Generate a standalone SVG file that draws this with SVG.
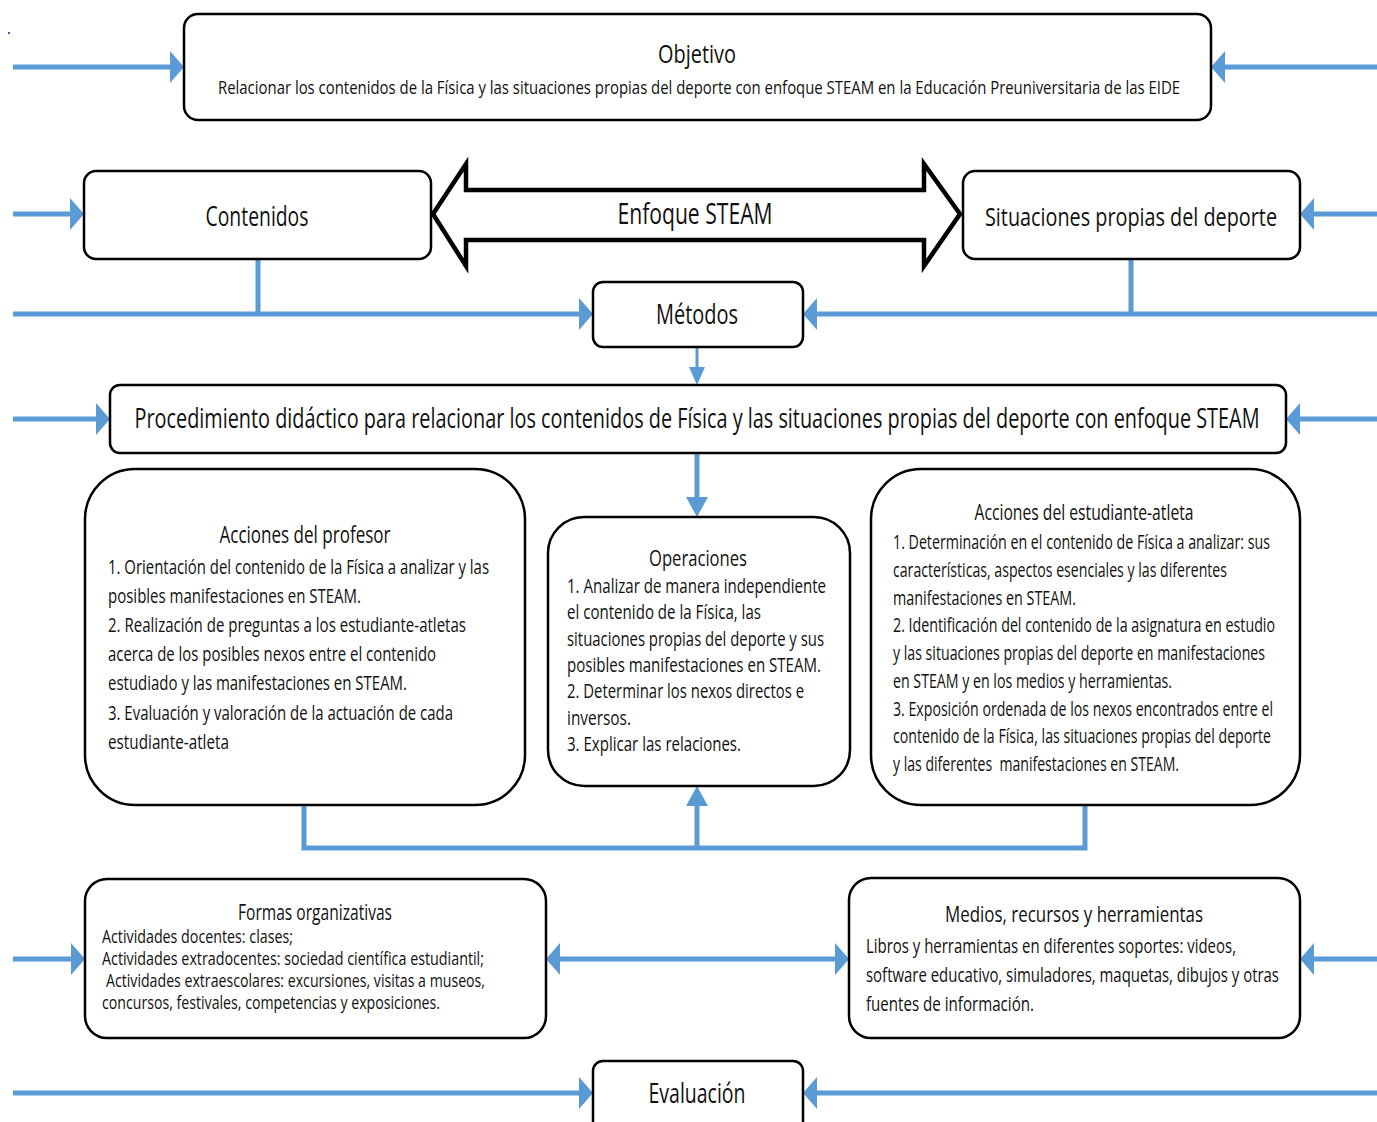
<svg xmlns="http://www.w3.org/2000/svg" width="1377" height="1122" viewBox="0 0 1377 1122">
<style>
.box{fill:#fff;stroke:#000;stroke-width:2.5}
.ln{fill:none;stroke:#5B9BD5;stroke-width:5}
.t{font-family:"Open Sans","Liberation Sans",sans-serif;fill:#111}
.c{text-anchor:middle}
</style>
<defs>
<marker id="ah" viewBox="0 0 14 32" refX="4" refY="16" markerWidth="14" markerHeight="32" markerUnits="userSpaceOnUse" orient="auto-start-reverse"><path d="M0,0 L14,16 L0,32 Z" fill="#5B9BD5"/></marker>
<marker id="av" viewBox="0 0 20 22" refX="8" refY="11" markerWidth="20" markerHeight="22" markerUnits="userSpaceOnUse" orient="auto"><path d="M0,0 L20,11 L0,22 Z" fill="#5B9BD5"/></marker>
<marker id="as" viewBox="0 0 18 16" refX="8" refY="8" markerWidth="18" markerHeight="16" markerUnits="userSpaceOnUse" orient="auto"><path d="M0,0 L18,8 L0,16 Z" fill="#5B9BD5"/></marker>
</defs>
<rect x="8" y="32" width="2" height="2" fill="#2E5FA8"/>
<g id="connectors">
<path class="ln" d="M13,67 H174" marker-end="url(#ah)"/>
<path class="ln" d="M1377,67 H1221" marker-end="url(#ah)"/>
<path class="ln" d="M13,214 H74" marker-end="url(#ah)"/>
<path class="ln" d="M1377,214 H1310" marker-end="url(#ah)"/>
<path class="ln" d="M258,259 V314"/>
<path class="ln" d="M13,314 H583" marker-end="url(#ah)"/>
<path class="ln" d="M1131,259 V314"/>
<path class="ln" d="M1377,314 H813" marker-end="url(#ah)"/>
<path class="ln" style="stroke-width:3" d="M697,347 V375" marker-end="url(#as)"/>
<path class="ln" d="M13,419 H100" marker-end="url(#ah)"/>
<path class="ln" d="M1377,419 H1296" marker-end="url(#ah)"/>
<path class="ln" d="M697,453 V505" marker-end="url(#av)"/>
<path class="ln" d="M304,805 V848 H1085 V805"/>
<path class="ln" d="M697,848 V798" marker-end="url(#av)"/>
<path class="ln" d="M13,959 H75" marker-end="url(#ah)"/>
<path class="ln" d="M1377,959 H1310" marker-end="url(#ah)"/>
<path class="ln" d="M556,959 H839" marker-start="url(#ah)" marker-end="url(#ah)"/>
<path class="ln" d="M13,1093 H583" marker-end="url(#ah)"/>
<path class="ln" d="M1377,1093 H813" marker-end="url(#ah)"/>
</g>
<g id="objetivo">
<rect class="box" x="184" y="14" width="1027" height="106" rx="14"/>
<text class="t c" x="697" y="63" font-size="25" textLength="78" lengthAdjust="spacingAndGlyphs">Objetivo</text>
<text class="t c" x="699" y="94" font-size="19" textLength="962" lengthAdjust="spacingAndGlyphs">Relacionar los contenidos de la Física y las situaciones propias del deporte con enfoque STEAM en la Educación Preuniversitaria de las EIDE</text>
</g>
<g id="contenidos">
<rect class="box" x="84" y="171" width="347" height="88" rx="12"/>
<text class="t c" x="257" y="226" font-size="27" textLength="103" lengthAdjust="spacingAndGlyphs">Contenidos</text>
</g>
<g id="enfoque">
<polygon points="433,214 466,164 466,190 924,190 924,164 960,214 924,266 924,240 466,240 466,266" fill="#fff" stroke="#000" stroke-width="4.5" stroke-linejoin="miter" stroke-miterlimit="10"/>
<text class="t c" x="695" y="224" font-size="29" textLength="155" lengthAdjust="spacingAndGlyphs">Enfoque STEAM</text>
</g>
<g id="situaciones">
<rect class="box" x="963" y="171" width="337" height="88" rx="12"/>
<text class="t c" x="1131" y="226" font-size="26" textLength="292" lengthAdjust="spacingAndGlyphs">Situaciones propias del deporte</text>
</g>
<g id="metodos">
<rect class="box" x="593" y="282" width="210" height="65" rx="10"/>
<text class="t c" x="697" y="324" font-size="27" textLength="82" lengthAdjust="spacingAndGlyphs">Métodos</text>
</g>
<g id="procedimiento">
<rect class="box" x="110" y="385" width="1176" height="68" rx="10"/>
<text class="t c" x="697" y="428" font-size="28" textLength="1125" lengthAdjust="spacingAndGlyphs">Procedimiento didáctico para relacionar los contenidos de Física y las situaciones propias del deporte con enfoque STEAM</text>
</g>
<g id="profesor">
<rect class="box" x="85" y="469" width="440" height="336" rx="50"/>
<text class="t c" x="305" y="543" font-size="23" textLength="171" lengthAdjust="spacingAndGlyphs">Acciones del profesor</text>
<g class="t" font-size="20">
<text x="108" y="574" textLength="381" lengthAdjust="spacingAndGlyphs">1. Orientación del contenido de la Física a analizar y las</text>
<text x="108" y="603" textLength="253" lengthAdjust="spacingAndGlyphs">posibles manifestaciones en STEAM.</text>
<text x="108" y="632" textLength="358" lengthAdjust="spacingAndGlyphs">2. Realización de preguntas a los estudiante-atletas</text>
<text x="108" y="661" textLength="328" lengthAdjust="spacingAndGlyphs">acerca de los posibles nexos entre el contenido</text>
<text x="108" y="690" textLength="299" lengthAdjust="spacingAndGlyphs">estudiado y las manifestaciones en STEAM.</text>
<text x="108" y="720" textLength="345" lengthAdjust="spacingAndGlyphs">3. Evaluación y valoración de la actuación de cada</text>
<text x="108" y="749" textLength="121" lengthAdjust="spacingAndGlyphs">estudiante-atleta</text>
</g>
</g>
<g id="operaciones">
<rect class="box" x="548" y="517" width="302" height="269" rx="36"/>
<text class="t c" x="698" y="566" font-size="21" textLength="98" lengthAdjust="spacingAndGlyphs">Operaciones</text>
<g class="t" font-size="19.5">
<text x="567" y="593" textLength="259" lengthAdjust="spacingAndGlyphs">1. Analizar de manera independiente</text>
<text x="567" y="619" textLength="194" lengthAdjust="spacingAndGlyphs">el contenido de la Física, las</text>
<text x="567" y="646" textLength="257" lengthAdjust="spacingAndGlyphs">situaciones propias del deporte y sus</text>
<text x="567" y="672" textLength="254" lengthAdjust="spacingAndGlyphs">posibles manifestaciones en STEAM.</text>
<text x="567" y="698" textLength="237" lengthAdjust="spacingAndGlyphs">2. Determinar los nexos directos e</text>
<text x="567" y="725" textLength="64" lengthAdjust="spacingAndGlyphs">inversos.</text>
<text x="567" y="751" textLength="174" lengthAdjust="spacingAndGlyphs">3. Explicar las relaciones.</text>
</g>
</g>
<g id="estudiante">
<rect class="box" x="871" y="469" width="429" height="336" rx="50"/>
<text class="t c" x="1084" y="520" font-size="22" textLength="219" lengthAdjust="spacingAndGlyphs">Acciones del estudiante-atleta</text>
<g class="t" font-size="19.5">
<text x="893" y="549" textLength="377" lengthAdjust="spacingAndGlyphs">1. Determinación en el contenido de Física a analizar: sus</text>
<text x="893" y="577" textLength="334" lengthAdjust="spacingAndGlyphs">características, aspectos esenciales y las diferentes</text>
<text x="893" y="605" textLength="183" lengthAdjust="spacingAndGlyphs">manifestaciones en STEAM.</text>
<text x="893" y="632" textLength="382" lengthAdjust="spacingAndGlyphs">2. Identificación del contenido de la asignatura en estudio</text>
<text x="893" y="660" textLength="372" lengthAdjust="spacingAndGlyphs">y las situaciones propias del deporte en manifestaciones</text>
<text x="893" y="688" textLength="279" lengthAdjust="spacingAndGlyphs">en STEAM y en los medios y herramientas.</text>
<text x="893" y="716" textLength="380" lengthAdjust="spacingAndGlyphs">3. Exposición ordenada de los nexos encontrados entre el</text>
<text x="893" y="743" textLength="378" lengthAdjust="spacingAndGlyphs">contenido de la Física, las situaciones propias del deporte</text>
<text x="893" y="771" textLength="286" lengthAdjust="spacingAndGlyphs" xml:space="preserve">y las diferentes  manifestaciones en STEAM.</text>
</g>
</g>
<g id="formas">
<rect class="box" x="85" y="879" width="461" height="159" rx="22"/>
<text class="t c" x="315" y="920" font-size="21" textLength="154" lengthAdjust="spacingAndGlyphs">Formas organizativas</text>
<g class="t" font-size="18">
<text x="102" y="943" textLength="191" lengthAdjust="spacingAndGlyphs">Actividades docentes: clases;</text>
<text x="102" y="965" textLength="382" lengthAdjust="spacingAndGlyphs">Actividades extradocentes: sociedad científica estudiantil;</text>
<text x="106" y="987" textLength="379" lengthAdjust="spacingAndGlyphs">Actividades extraescolares: excursiones, visitas a museos,</text>
<text x="102" y="1009" textLength="338" lengthAdjust="spacingAndGlyphs">concursos, festivales, competencias y exposiciones.</text>
</g>
</g>
<g id="medios">
<rect class="box" x="849" y="878" width="451" height="160" rx="22"/>
<text class="t c" x="1074" y="922" font-size="22" textLength="258" lengthAdjust="spacingAndGlyphs">Medios, recursos y herramientas</text>
<g class="t" font-size="20">
<text x="866" y="953" textLength="370" lengthAdjust="spacingAndGlyphs">Libros y herramientas en diferentes soportes: videos,</text>
<text x="866" y="982" textLength="413" lengthAdjust="spacingAndGlyphs">software educativo, simuladores, maquetas, dibujos y otras</text>
<text x="866" y="1011" textLength="168" lengthAdjust="spacingAndGlyphs">fuentes de información.</text>
</g>
</g>
<g id="evaluacion">
<rect class="box" x="593" y="1061" width="210" height="90" rx="10"/>
<text class="t c" x="697" y="1103" font-size="27" textLength="97" lengthAdjust="spacingAndGlyphs">Evaluación</text>
</g>
</svg>
